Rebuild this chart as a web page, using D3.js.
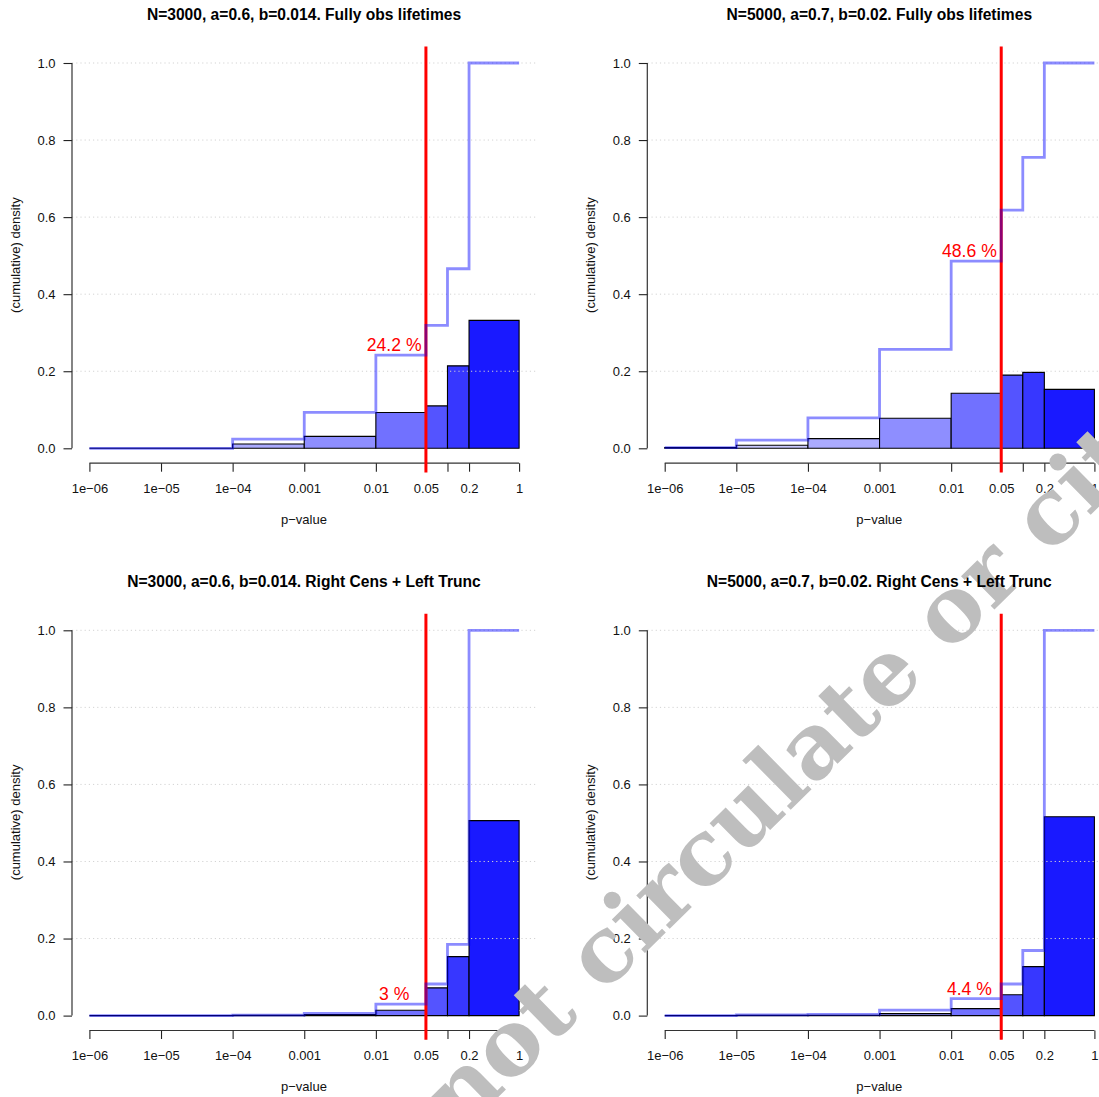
<!DOCTYPE html>
<html>
<head>
<meta charset="utf-8">
<script src="https://cdn.jsdelivr.net/npm/d3@7"></script>
<style>
  body { margin: 0; background: #fff; }
  svg { display: block; font-family: "Liberation Sans", Arial, Helvetica, sans-serif; }
</style>
</head>
<body>
<div class="board"></div>
<script>
// bin edges of the p-value histogram (log scale)
var binEdges = [1e-6, 1e-5, 1e-4, 1e-3, 0.01, 0.05, 0.1, 0.2, 1];
var tickLabels = ['1e\u221206', '1e\u221205', '1e\u221204', '0.001', '0.01', '0.05', '', '0.2', '1'];
var yTicks = [0, 0.2, 0.4, 0.6, 0.8, 1.0];

var titles = [
  'N=3000, a=0.6, b=0.014. Fully obs lifetimes',
  'N=5000, a=0.7, b=0.02. Fully obs lifetimes',
  'N=3000, a=0.6, b=0.014. Right Cens + Left Trunc',
  'N=5000, a=0.7, b=0.02. Right Cens + Left Trunc'
];

// bar heights per bin
var barsFull3000 = [0, 0, 0.011, 0.031, 0.093, 0.110, 0.214, 0.332];
var barsFull5000 = [0.002, 0.008, 0.025, 0.078, 0.143, 0.190, 0.197, 0.153];
var barsCens3000 = [0, 0, 0.0005, 0.003, 0.014, 0.072, 0.153, 0.506];
var barsCens5000 = [0, 0.001, 0.001, 0.005, 0.018, 0.054, 0.127, 0.516];

// cumulative step line per bin
var cumFull3000 = [0, 0, 0.024, 0.093, 0.242, 0.319, 0.466, 1.0];
var cumFull5000 = [0.002, 0.021, 0.079, 0.257, 0.486, 0.618, 0.755, 1.0];
var cumCens3000 = [0, 0, 0.001, 0.006, 0.030, 0.082, 0.185, 1.0];
var cumCens5000 = [0, 0.002, 0.003, 0.014, 0.044, 0.082, 0.169, 1.0];

var pctLabels = ['24.2 %', '48.6 %', '3 %', '4.4 %'];
var cutoff = 0.05;

var panels = [
  {title: titles[0], bars: barsFull3000, cum: cumFull3000, pct: pctLabels[0], dx: 0, dy: 0},
  {title: titles[1], bars: barsFull5000, cum: cumFull5000, pct: pctLabels[1], dx: 575.3, dy: 0},
  {title: titles[2], bars: barsCens3000, cum: cumCens3000, pct: pctLabels[2], dx: 0, dy: 567.3},
  {title: titles[3], bars: barsCens5000, cum: cumCens5000, pct: pctLabels[3], dx: 575.3, dy: 567.3}
];

var width = 1099, height = 1097;
var svg = d3.select('.board')
            .append('svg')
            .attr('width', width)
            .attr('height', height);

var plotLayer = svg.append('g');
var markLayer = svg.append('g');
var titleLayer = svg.append('g');

var x = d3.scaleLog().domain([1e-6, 1]).range([89.4, 519.1]);
var y = d3.scaleLinear().domain([0, 1]).range([448.3, 63]);
var plotLeft = 72, plotRight = 536, plotTop = 47, plotBottom = 463.2;

// fill alpha goes 0.1 .. 0.9 over the bins
var alpha = d3.scaleLinear().domain([0, binEdges.length - 2]).range([0.1, 0.9]);
var binColor = function(i) {
  var a = alpha(i);
  var c = Math.round(255 * (1 - a));
  return d3.rgb(c, c, 255).toString();
};

var stepLine = d3.line()
                 .x(function(d) { return x(d[0]); })
                 .y(function(d) { return y(d[1]); })
                 .curve(d3.curveStepAfter);

panels.forEach(function(p) {
  var g = plotLayer.append('g').attr('transform', 'translate(' + p.dx + ',' + p.dy + ')');

  // title (kept above the watermark)
  titleLayer.append('text')
   .attr('x', p.dx + (plotLeft + plotRight) / 2)
   .attr('y', p.dy + 20)
   .attr('text-anchor', 'middle')
   .style('font-weight', 'bold')
   .style('font-size', '15.6px')
   .text(p.title);

  // bars (paths so zero-height bins still show their border)
  g.selectAll('path.bar')
   .data(p.bars)
   .enter()
   .append('path')
   .attr('class', 'bar')
   .attr('d', function(d, i) {
     var x0 = x(binEdges[i]), x1 = x(binEdges[i + 1]);
     return 'M' + x0 + ',' + y(0) + 'H' + x1 + 'V' + y(d) + 'H' + x0 + 'Z';
   })
   .style('fill', function(d, i) { return binColor(i); })
   .style('stroke', '#000')
   .style('stroke-width', 1.1);

  // dotted grid
  g.selectAll('line.grid')
   .data(yTicks.slice(1))
   .enter()
   .append('line')
   .attr('class', 'grid')
   .attr('x1', plotLeft).attr('x2', plotRight)
   .attr('y1', function(d) { return y(d); })
   .attr('y2', function(d) { return y(d); })
   .style('stroke', '#d3d3d3')
   .style('stroke-width', 1)
   .style('stroke-dasharray', '1.2,3');

  // y axis
  var yAxis = g.append('g').attr('transform', 'translate(' + plotLeft + ',0)')
               .call(d3.axisLeft(y).tickValues(yTicks).tickSize(8.5).tickPadding(8)
                       .tickFormat(d3.format('.1f')));
  yAxis.select('.domain').attr('d', 'M0,' + y(0) + 'V' + y(1));

  // x axis
  var xAxis = g.append('g').attr('transform', 'translate(0,' + plotBottom + ')')
               .call(d3.axisBottom(x).tickValues(binEdges).tickSize(8.5).tickPadding(12)
                       .tickFormat(function(d, i) { return tickLabels[i]; }));
  xAxis.select('.domain').attr('d', 'M' + x(1e-6) + ',0H' + x(1));

  [yAxis, xAxis].forEach(function(a) {
    a.selectAll('text').style('font-size', '13px').style('fill', '#111').style('font-family', null);
    a.selectAll('line').style('stroke', '#222').style('stroke-width', 1.1);
    a.select('.domain').style('stroke', '#333').style('stroke-width', 1.2);
  });

  // axis titles
  g.append('text')
   .attr('transform', 'translate(20,' + ((plotTop + plotBottom) / 2) + ') rotate(-90)')
   .attr('text-anchor', 'middle')
   .style('font-size', '13px')
   .style('fill', '#111')
   .text('(cumulative) density');

  g.append('text')
   .attr('x', (plotLeft + plotRight) / 2)
   .attr('y', 524)
   .attr('text-anchor', 'middle')
   .style('font-size', '13px')
   .style('fill', '#111')
   .text('p\u2212value');

  // cutoff line
  g.append('line')
   .attr('x1', x(cutoff)).attr('x2', x(cutoff))
   .attr('y1', 46.5).attr('y2', 472.5)
   .style('stroke', '#ff0000')
   .style('stroke-width', 3);

  // cumulative step line
  var pts = p.cum.map(function(c, i) { return [binEdges[i], c]; });
  pts.push([1, p.cum[p.cum.length - 1]]);
  g.append('path')
   .attr('d', stepLine(pts))
   .style('fill', 'none')
   .style('stroke', 'rgba(0,0,255,0.45)')
   .style('stroke-width', 2.8);

  // share of p-values below the cutoff
  var below = p.cum[binEdges.indexOf(0.01)];
  g.append('text')
   .attr('x', x(0.018))
   .attr('y', y(below) - 4)
   .attr('text-anchor', 'middle')
   .style('font-size', '17.6px')
   .style('fill', '#ff0000')
   .text(p.pct);
});

// watermark
markLayer.append('text')
   .attr('transform', 'translate(739,816) rotate(-44.5)')
   .attr('text-anchor', 'middle')
   .attr('dy', '0.35em')
   .style('font-family', '"DejaVu Serif", serif')
   .style('font-weight', 'bold')
   .style('font-size', '91px')
   .style('fill', '#bebebe')
   .text('Do not circulate or cite');
</script>
</body>
</html>
